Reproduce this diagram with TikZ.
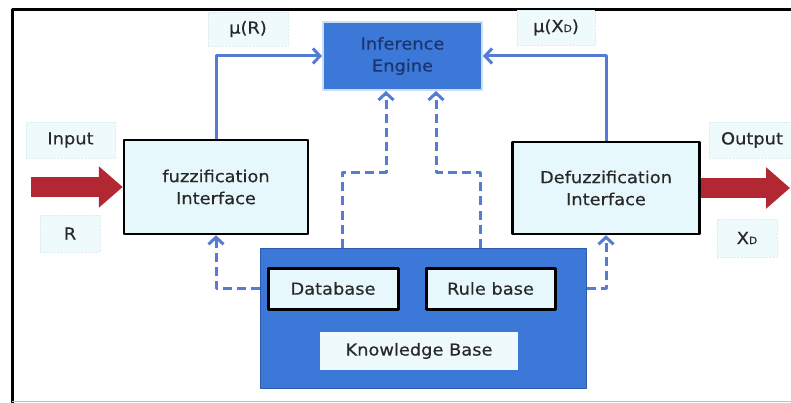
\documentclass[tikz,border=0pt]{standalone}
\usepackage{fontspec}
\setmainfont[FakeStretch=1.08, FakeBold=0.4]{DejaVu Sans}
\usetikzlibrary{arrows.meta}
\definecolor{paleblue}{RGB}{230,248,251}
\definecolor{tagfill}{RGB}{238,250,251}
\definecolor{tagedge}{RGB}{222,238,238}
\definecolor{engineblue}{RGB}{60,120,216}
\definecolor{enginetext}{RGB}{26,52,110}
\definecolor{kbedge}{RGB}{44,92,176}
\definecolor{linkblue}{RGB}{84,124,210}
\definecolor{arrowred}{RGB}{178,40,50}
\definecolor{textgray}{RGB}{40,40,40}
\begin{document}
\begin{tikzpicture}[x=1pt, y=-1pt, font=\fontsize{16.5}{22}\selectfont, line join=round, >={Straight Barb[length=7pt,width=15pt]},
	block/.style={draw=black, line width=2.5pt, fill=paleblue, text=textgray, align=center, inner sep=0pt},
	tag/.style={draw=tagedge, densely dotted, fill=tagfill, text=textgray, inner sep=0pt},
	flow/.style={draw=linkblue, line width=3pt, ->},
	dflow/.style={flow, dash pattern=on 9pt off 5pt},
	bigarrow/.style={draw=arrowred, line width=20pt, -{Triangle[length=24pt,width=40pt]}}]
		\useasboundingbox (0,0) rectangle (791,403);
		\draw[line width=3pt] (12,403)--(12,10)--(791,10);
		\draw[gray!50, line width=1pt] (12,401.5)--(791,401.5);
		\node[block, minimum width=184pt, minimum height=94pt] (fuzz) at (216,187) {fuzzification\\Interface};
		\node[block, minimum width=187pt, minimum height=92pt] (defuzz) at (606,188) {Defuzzification\\Interface};
		\node[draw={rgb,255:red,205;green,222;blue,245}, line width=2pt, fill=engineblue, text=enginetext, align=center, inner sep=0pt, minimum width=159pt, minimum height=68pt] (engine) at (402.5,56) {Inference\\Engine};
		\node[draw=kbedge, line width=1pt, fill=engineblue, minimum width=326pt, minimum height=140pt] (kb) at (423,318) {};
		\node[block, line width=3pt, minimum width=130pt, minimum height=41pt] (db) at (333,288.5) {Database};
		\node[block, line width=3pt, minimum width=129pt, minimum height=41pt] (rules) at (490.5,288.5) {Rule base};
		\node[fill=tagfill, text=textgray, inner sep=0pt, minimum width=198pt, minimum height=38pt] (kbname) at (419,351) {Knowledge Base};
		\node[tag, minimum width=80pt, minimum height=34pt] (muR) at (248,29) {μ(R)};
		\node[tag, minimum width=78pt, minimum height=35pt] (muX) at (556,27.5) {μ(X{\fontsize{10}{10}\selectfont D})};
		\node[tag, minimum width=89pt, minimum height=36pt] (inlab) at (70.5,140) {Input};
		\node[tag, minimum width=60pt, minimum height=37pt] (rlab) at (70,233.5) {R};
		\node[tag, minimum width=86pt, minimum height=36pt] (outlab) at (752,140) {Output};
		\node[tag, minimum width=60pt, minimum height=38pt] (xlab) at (747,238) {X{\fontsize{10}{10}\selectfont D}};
		\coordinate (src) at (31,187);
		\coordinate (sink) at (790,188);
		\draw[bigarrow] (src)--(fuzz.west);
		\draw[bigarrow] (defuzz.east)--(sink);
		\draw[flow] (fuzz.north) |- (engine.west);
		\draw[flow] (defuzz.north) |- (engine.east);
		\draw[dflow] ([xshift=-81pt]kb.north) -- ++(0,-75) -| ([xshift=-16.5pt]engine.south);
		\draw[dflow] ([xshift=57pt]kb.north) -- ++(0,-75) -| ([xshift=33.5pt]engine.south);
		\draw[dflow] (db.west -| kb.west) -| (fuzz.south);
		\draw[dflow] (rules.east -| kb.east) -| (defuzz.south);
\end{tikzpicture}
\end{document}
